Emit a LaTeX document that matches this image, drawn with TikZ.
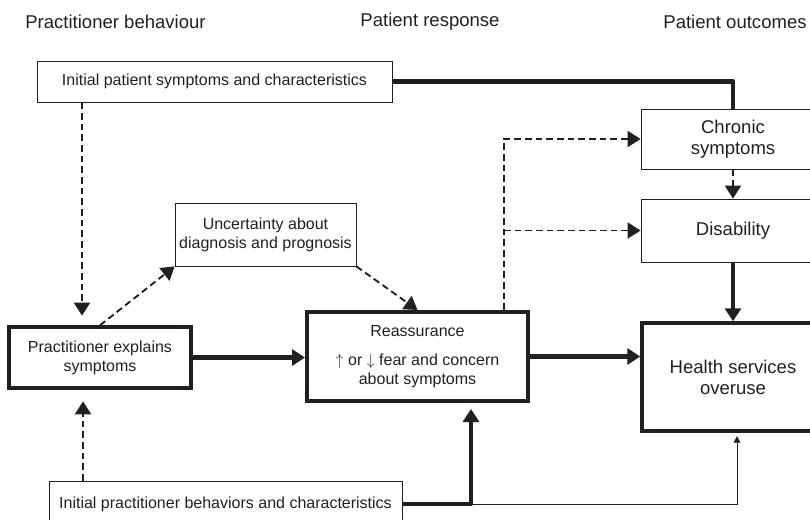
\documentclass[tikz,border=0pt]{standalone}
\usepackage{fontspec}
\setmainfont{Liberation Sans}
\usetikzlibrary{arrows.meta}
\definecolor{ink}{HTML}{231F20}
\tikzset{
  plainbox/.style={draw=ink, line width=0.6pt, align=center, inner sep=0pt, text=ink},
  headtext/.style={text=ink, font=\fontsize{13.9}{16}\selectfont},
  smalltext/.style={font=\fontsize{12}{14.25}\selectfont},
  bigtext/.style={font=\fontsize{13.9}{15.75}\selectfont},
  thickline/.style={draw=ink, line width=3.4pt, line join=round},
  dashline/.style={draw=ink, line width=1.4pt, dash pattern=on 5pt off 3pt},
  thinline/.style={draw=ink, line width=0.7pt},
  bighead/.style={-{Triangle[length=9.75pt,width=12pt]}},
  smallhead/.style={-{Triangle[length=5pt,width=5pt]}},
}

\begin{document}
\begin{tikzpicture}[x=0.75pt,y=-0.75pt]
	%%%%% START %%%%%
	\useasboundingbox (0,0) rectangle (810,519);
	
	\node[headtext] (hprac) at (115.5,22) {Practitioner behaviour};
	\node[headtext] (hresp) at (430,22) {Patient response};
	\node[headtext] (hout) at (735,22) {Patient outcomes};
	
	\node[plainbox, smalltext, minimum width=266.25pt, minimum height=30.75pt] (pat) at (214.5,81.5) {Initial patient symptoms and characteristics};
	\node[plainbox, smalltext, line width=2.5pt, minimum width=136.5pt, minimum height=45.75pt] (expl) at (100,357.5) {Practitioner explains\\symptoms};
	\node[plainbox, smalltext, minimum width=135.75pt, minimum height=47.25pt] (unc) at (265.5,234.5) {Uncertainty about\\diagnosis and prognosis};
	\node[plainbox, smalltext, line width=3pt, minimum width=165.75pt, minimum height=66.75pt] (reas) at (417.5,356.5) {Reassurance\\[7.5pt]$\uparrow$ or $\downarrow$ fear and concern\\about symptoms};
	\node[plainbox, bigtext, minimum width=138pt, minimum height=45pt] (chr) at (733,139) {Chronic\\symptoms};
	\node[plainbox, bigtext, minimum width=138pt, minimum height=47.25pt] (dis) at (733,230.5) {Disability};
	\node[plainbox, bigtext, line width=2.6pt, minimum width=136.5pt, minimum height=81pt] (hso) at (733,377) {Health services\\overuse};
	\node[plainbox, smalltext, minimum width=264.75pt, minimum height=34.5pt] (prac) at (225.5,504) {Initial practitioner behaviors and characteristics};
	
	\coordinate (split) at (504,230.5);
	\coordinate (join) at (471,504);
	
	% thick paths
	\draw[thickline] (pat.east) -| (chr.north);
	\draw[thickline, bighead] (expl.east) -- (expl.east -| reas.west);
	\draw[thickline, bighead] (reas.east) -- (reas.east -| hso.west);
	\draw[thickline, bighead] (dis.south) -- (hso.north);
	\draw[thickline, bighead, shorten >=4.5pt] (prac.east) -| (join |- reas.south);
	
	% dashed paths
	\draw[dashline, bighead, shorten >=7.25pt] (82,0 |- pat.south) -- (82,0 |- expl.north);
	\draw[dashline, bighead] (expl.north) -- (unc.south west);
	\draw[dashline, bighead] (unc.south east) -- (reas.north);
	\draw[dashline, bighead] (split |- reas.north) |- (chr.west);
	\draw[dashline, bighead] (split) -- (dis.west);
	\draw[dashline, bighead] (chr.south) -- (dis.north);
	\draw[dashline, bighead, shorten >=8.75pt] (83,0 |- prac.north) -- (83,0 |- expl.south);
	
	% thin path
	\draw[thinline, smallhead, shorten >=2.5pt] (join) -| (737,0 |- hso.south);
	%%%%% END %%%%%
\end{tikzpicture}
\end{document}
